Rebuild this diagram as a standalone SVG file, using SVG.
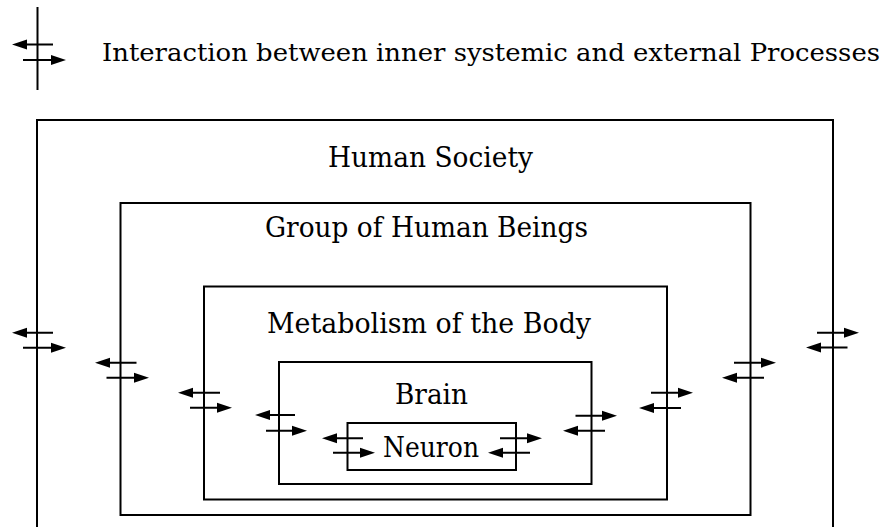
<svg xmlns="http://www.w3.org/2000/svg" width="889" height="527" viewBox="0 0 889 527">
<style>
.box{fill:none;stroke:#000;stroke-width:2}
.ln{stroke:#000;stroke-width:2;fill:none}
.t{font-family:'DejaVu Serif','Liberation Serif',serif;font-size:27px;fill:#000}
</style>
<defs>
<path id="hr" d="M0,0 L-15,-5 L-15,5 Z" fill="#000"/>
<path id="hl" d="M0,0 L15,-5 L15,5 Z" fill="#000"/>
</defs>
<g id="legend">
<line class="ln" x1="37.5" y1="7" x2="37.5" y2="90"/>
<line class="ln" x1="53" y1="44.5" x2="20" y2="44.5"/><use href="#hl" x="12" y="44.5"/>
<line class="ln" x1="23" y1="60" x2="58" y2="60"/><use href="#hr" x="66" y="60"/>
<text class="t" style="font-size:25px" x="102" y="61" textLength="778" lengthAdjust="spacingAndGlyphs">Interaction between inner systemic and external Processes</text>
</g>
<g id="society">
<path class="box" d="M37,527 V120 H833 V527"/>
<text class="t" x="328" y="167" textLength="205" lengthAdjust="spacingAndGlyphs">Human Society</text>
</g>
<g id="group">
<rect class="box" x="120.5" y="203" width="630" height="312"/>
<text class="t" x="265" y="237" textLength="323" lengthAdjust="spacingAndGlyphs">Group of Human Beings</text>
</g>
<g id="metabolism">
<rect class="box" x="204" y="286.5" width="463" height="213"/>
<text class="t" x="267" y="333" textLength="324" lengthAdjust="spacingAndGlyphs">Metabolism of the Body</text>
</g>
<g id="brain">
<rect class="box" x="279" y="362" width="312.5" height="122"/>
<text class="t" x="395" y="404" textLength="73" lengthAdjust="spacingAndGlyphs">Brain</text>
</g>
<g id="neuron">
<rect class="box" x="347.5" y="423" width="168.5" height="47"/>
<text class="t" x="383" y="457" textLength="96" lengthAdjust="spacingAndGlyphs">Neuron</text>
</g>
<g id="connectors">
<line class="ln" x1="53" y1="332.7" x2="20" y2="332.7"/><use href="#hl" x="12" y="332.7"/>
<line class="ln" x1="23" y1="347.7" x2="58" y2="347.7"/><use href="#hr" x="66" y="347.7"/>
<line class="ln" x1="136.5" y1="362.7" x2="103" y2="362.7"/><use href="#hl" x="95" y="362.7"/>
<line class="ln" x1="106.5" y1="377.7" x2="141" y2="377.7"/><use href="#hr" x="149" y="377.7"/>
<line class="ln" x1="220" y1="392.7" x2="186" y2="392.7"/><use href="#hl" x="178" y="392.7"/>
<line class="ln" x1="190" y1="407.7" x2="224" y2="407.7"/><use href="#hr" x="232" y="407.7"/>
<line class="ln" x1="295" y1="415" x2="263" y2="415"/><use href="#hl" x="255" y="415"/>
<line class="ln" x1="266" y1="430.7" x2="299" y2="430.7"/><use href="#hr" x="307" y="430.7"/>
<line class="ln" x1="363" y1="438.3" x2="330" y2="438.3"/><use href="#hl" x="322" y="438.3"/>
<line class="ln" x1="333" y1="452.7" x2="367" y2="452.7"/><use href="#hr" x="375" y="452.7"/>
<line class="ln" x1="817" y1="332.7" x2="851" y2="332.7"/><use href="#hr" x="859" y="332.7"/>
<line class="ln" x1="847.5" y1="347.5" x2="814" y2="347.5"/><use href="#hl" x="806" y="347.5"/>
<line class="ln" x1="734" y1="362.7" x2="768" y2="362.7"/><use href="#hr" x="776" y="362.7"/>
<line class="ln" x1="764" y1="377.7" x2="730" y2="377.7"/><use href="#hl" x="722" y="377.7"/>
<line class="ln" x1="651" y1="392.7" x2="685" y2="392.7"/><use href="#hr" x="693" y="392.7"/>
<line class="ln" x1="681" y1="408" x2="647" y2="408"/><use href="#hl" x="639" y="408"/>
<line class="ln" x1="575.5" y1="415.7" x2="609" y2="415.7"/><use href="#hr" x="617" y="415.7"/>
<line class="ln" x1="605" y1="430.7" x2="571" y2="430.7"/><use href="#hl" x="563" y="430.7"/>
<line class="ln" x1="500" y1="438.3" x2="534" y2="438.3"/><use href="#hr" x="542" y="438.3"/>
<line class="ln" x1="530" y1="452.7" x2="496" y2="452.7"/><use href="#hl" x="488" y="452.7"/>
</g>
</svg>
